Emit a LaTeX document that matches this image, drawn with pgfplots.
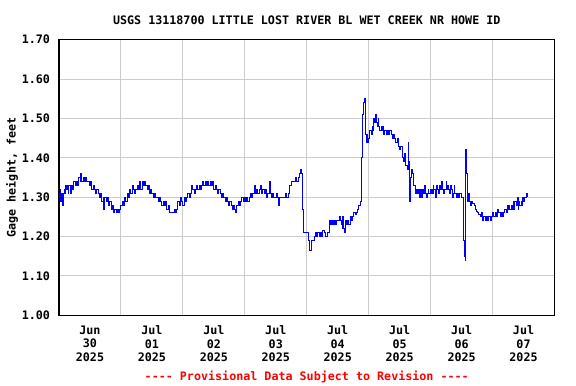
\documentclass[border=0pt]{standalone}
\usepackage{fontspec}
\setmainfont{DejaVu Sans Mono}
\usepackage{pgfplots}
\pgfplotsset{compat=1.18}
\definecolor{gridgray}{RGB}{204,204,204}
\definecolor{usgsblue}{RGB}{0,0,255}
\newcommand{\chartfont}{\fontsize{11.7}{13.5}\selectfont\bfseries}
\pgfplotstableread{
x y
0.00 1.30
0.01 1.31
0.02 1.32
0.03 1.29
0.04 1.31
0.05 1.30
0.06 1.28
0.07 1.31
0.08 1.32
0.10 1.31
0.11 1.33
0.12 1.32
0.14 1.33
0.15 1.31
0.16 1.33
0.18 1.31
0.20 1.33
0.22 1.32
0.24 1.34
0.26 1.33
0.28 1.34
0.30 1.33
0.32 1.35
0.34 1.34
0.35 1.36
0.37 1.34
0.39 1.35
0.41 1.34
0.43 1.35
0.45 1.34
0.47 1.34
0.49 1.33
0.51 1.34
0.53 1.32
0.55 1.33
0.57 1.32
0.59 1.31
0.61 1.32
0.63 1.31
0.65 1.30
0.67 1.31
0.69 1.29
0.71 1.30
0.72 1.27
0.74 1.30
0.76 1.29
0.78 1.30
0.80 1.28
0.82 1.29
0.84 1.27
0.86 1.28
0.88 1.26
0.90 1.27
0.92 1.26
0.94 1.27
0.96 1.26
0.98 1.27
1.00 1.28
1.02 1.29
1.04 1.28
1.06 1.30
1.08 1.29
1.10 1.31
1.12 1.30
1.14 1.32
1.16 1.31
1.18 1.33
1.20 1.32
1.22 1.31
1.24 1.32
1.26 1.33
1.28 1.32
1.30 1.34
1.32 1.32
1.34 1.34
1.36 1.33
1.38 1.34
1.40 1.33
1.42 1.32
1.44 1.33
1.46 1.31
1.48 1.32
1.50 1.31
1.52 1.30
1.54 1.31
1.56 1.30
1.58 1.30
1.60 1.29
1.62 1.30
1.64 1.29
1.66 1.28
1.68 1.29
1.70 1.28
1.72 1.29
1.74 1.27
1.76 1.28
1.78 1.26
1.80 1.26
1.84 1.26
1.86 1.27
1.88 1.26
1.90 1.27
1.92 1.29
1.94 1.28
1.96 1.30
1.98 1.29
2.00 1.28
2.02 1.30
2.04 1.29
2.06 1.30
2.08 1.31
2.10 1.30
2.12 1.31
2.14 1.33
2.16 1.32
2.18 1.31
2.20 1.32
2.22 1.33
2.24 1.32
2.26 1.33
2.28 1.32
2.30 1.33
2.32 1.34
2.34 1.33
2.36 1.34
2.38 1.33
2.40 1.34
2.42 1.33
2.44 1.34
2.46 1.33
2.48 1.34
2.50 1.32
2.52 1.33
2.54 1.32
2.56 1.31
2.58 1.32
2.60 1.31
2.62 1.30
2.64 1.31
2.66 1.30
2.68 1.29
2.70 1.30
2.72 1.29
2.74 1.28
2.76 1.29
2.78 1.28
2.80 1.27
2.82 1.28
2.84 1.27
2.85 1.26
2.87 1.28
2.89 1.29
2.91 1.28
2.93 1.29
2.95 1.30
2.97 1.29
2.99 1.30
3.01 1.29
3.03 1.30
3.05 1.29
3.07 1.30
3.09 1.31
3.11 1.30
3.13 1.31
3.15 1.33
3.17 1.31
3.19 1.32
3.21 1.31
3.23 1.32
3.25 1.33
3.27 1.31
3.29 1.32
3.31 1.31
3.33 1.32
3.35 1.30
3.37 1.31
3.39 1.34
3.41 1.31
3.43 1.30
3.45 1.31
3.47 1.30
3.49 1.30
3.51 1.31
3.53 1.30
3.54 1.28
3.56 1.30
3.58 1.30
3.60 1.30
3.62 1.30
3.64 1.30
3.66 1.31
3.68 1.30
3.70 1.31
3.72 1.33
3.74 1.33
3.76 1.34
3.78 1.34
3.80 1.34
3.82 1.35
3.84 1.34
3.86 1.35
3.88 1.36
3.90 1.37
3.92 1.36
3.93 1.27
3.95 1.21
3.98 1.21
4.00 1.21
4.02 1.19
4.04 1.18
4.05 1.165
4.07 1.18
4.08 1.19
4.10 1.19
4.12 1.20
4.14 1.21
4.16 1.20
4.18 1.21
4.20 1.20
4.22 1.21
4.24 1.20
4.26 1.215
4.28 1.21
4.30 1.20
4.32 1.20
4.34 1.21
4.36 1.24
4.37 1.23
4.38 1.24
4.39 1.23
4.40 1.24
4.42 1.23
4.43 1.24
4.44 1.23
4.46 1.24
4.47 1.23
4.48 1.24
4.50 1.24
4.52 1.25
4.54 1.24
4.56 1.23
4.57 1.25
4.58 1.22
4.59 1.25
4.60 1.22
4.61 1.21
4.62 1.24
4.64 1.23
4.66 1.24
4.68 1.23
4.70 1.25
4.72 1.24
4.74 1.25
4.76 1.26
4.78 1.255
4.80 1.26
4.82 1.27
4.84 1.28
4.86 1.29
4.88 1.30
4.89 1.40
4.90 1.51
4.92 1.54
4.93 1.55
4.94 1.53
4.95 1.46
4.96 1.44
4.97 1.46
4.98 1.44
5.00 1.45
5.02 1.47
5.04 1.46
5.06 1.48
5.07 1.47
5.08 1.50
5.10 1.49
5.11 1.51
5.12 1.49
5.14 1.48
5.15 1.50
5.16 1.48
5.18 1.47
5.20 1.48
5.22 1.47
5.23 1.48
5.24 1.46
5.26 1.47
5.28 1.46
5.30 1.47
5.32 1.46
5.34 1.47
5.36 1.46
5.38 1.45
5.40 1.46
5.42 1.45
5.44 1.44
5.46 1.45
5.48 1.43
5.50 1.42
5.52 1.43
5.54 1.40
5.56 1.39
5.58 1.41
5.60 1.38
5.62 1.37
5.64 1.44
5.65 1.39
5.66 1.29
5.67 1.35
5.69 1.37
5.71 1.36
5.73 1.33
5.75 1.32
5.76 1.31
5.77 1.32
5.79 1.31
5.81 1.32
5.82 1.30
5.83 1.32
5.85 1.30
5.86 1.31
5.87 1.32
5.89 1.31
5.90 1.33
5.91 1.31
5.93 1.30
5.95 1.31
5.96 1.32
5.97 1.31
5.99 1.32
6.00 1.31
6.01 1.32
6.03 1.31
6.04 1.33
6.05 1.32
6.07 1.30
6.09 1.31
6.10 1.33
6.11 1.32
6.13 1.31
6.15 1.33
6.16 1.32
6.17 1.34
6.19 1.32
6.21 1.31
6.23 1.32
6.25 1.34
6.26 1.32
6.27 1.33
6.29 1.32
6.31 1.31
6.32 1.33
6.33 1.32
6.35 1.30
6.37 1.31
6.38 1.33
6.39 1.31
6.41 1.30
6.43 1.31
6.45 1.30
6.47 1.31
6.49 1.30
6.51 1.30
6.53 1.19
6.545 1.15
6.555 1.14
6.565 1.42
6.575 1.42
6.585 1.36
6.60 1.29
6.61 1.31
6.62 1.29
6.64 1.28
6.66 1.29
6.68 1.285
6.70 1.28
6.72 1.27
6.74 1.265
6.76 1.26
6.78 1.255
6.80 1.25
6.82 1.26
6.84 1.24
6.86 1.25
6.88 1.24
6.90 1.25
6.92 1.24
6.94 1.25
6.96 1.24
6.98 1.25
7.00 1.26
7.02 1.25
7.04 1.26
7.06 1.25
7.08 1.27
7.10 1.26
7.12 1.25
7.14 1.26
7.16 1.25
7.18 1.26
7.20 1.27
7.22 1.26
7.24 1.28
7.25 1.27
7.26 1.28
7.28 1.27
7.30 1.28
7.32 1.27
7.33 1.29
7.34 1.27
7.36 1.29
7.38 1.28
7.40 1.30
7.41 1.27
7.42 1.29
7.44 1.28
7.46 1.29
7.47 1.28
7.48 1.30
7.50 1.29
7.52 1.30
7.54 1.31
7.56 1.30
}\gagedata
\begin{document}
\begin{tikzpicture}
\begin{axis}[
  name=ax,
  scale only axis,
  width=495.5pt, height=275.6pt,
  xmin=0, xmax=8, ymin=1.0, ymax=1.7,
  font=\chartfont,
  xtick={0.5,1.5,2.5,3.5,4.5,5.5,6.5,7.5},
  xticklabels={{Jun\\30\\2025},{Jul\\01\\2025},{Jul\\02\\2025},{Jul\\03\\2025},{Jul\\04\\2025},{Jul\\05\\2025},{Jul\\06\\2025},{Jul\\07\\2025}},
  xticklabel style={align=center, font=\chartfont, yshift=-7pt},
  minor xtick={1,2,3,4,5,6,7},
  xminorgrids=true,
  ytick={1.0,1.1,1.2,1.3,1.4,1.5,1.6,1.7},
  ymajorgrids=true,
  yticklabel style={/pgf/number format/.cd, fixed, fixed zerofill, precision=2, assume math mode=true, /tikz/.cd, font=\chartfont, xshift=-5.5pt},
  major tick length=0pt, minor tick length=0pt,
  grid style={gridgray, line width=0.9pt},
  minor grid style={gridgray, line width=0.9pt},
  axis line style={black, line width=1.3pt},
  ylabel={Gage height, feet},
  ylabel style={at={(axis description cs:-0.0949,0.5)}, anchor=center, font=\chartfont},
]
\addplot[const plot, usgsblue, line width=0.9pt] table[x=x, y=y] {\gagedata};
\end{axis}
\node[black, anchor=center, font=\chartfont] at ([yshift=19pt]ax.north) {USGS 13118700 LITTLE LOST RIVER BL WET CREEK NR HOWE ID};
\node[red, anchor=center, font=\chartfont] at ([yshift=-61.2pt]ax.south) {-{}-{}-{}- Provisional Data Subject to Revision -{}-{}-{}-};
\useasboundingbox ([shift={(-59pt,-68.7pt)}]ax.south west) rectangle ++(576pt,384pt);
\end{tikzpicture}
\end{document}
